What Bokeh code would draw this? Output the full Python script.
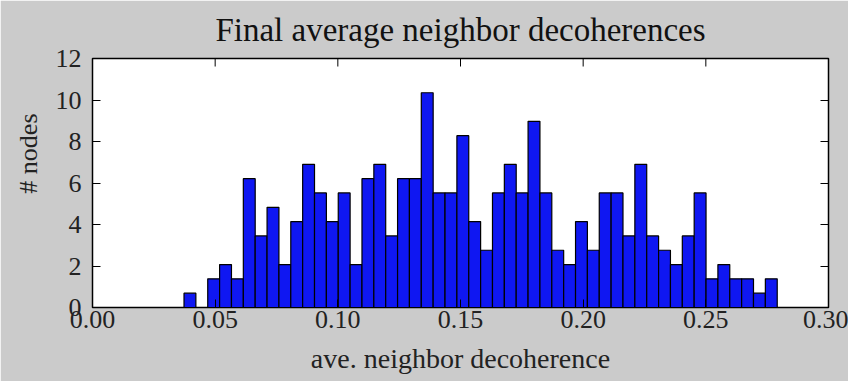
from bokeh.plotting import figure
from bokeh.models import LinearAxis, FixedTicker, NumeralTickFormatter, Range1d, Title
from bokeh.embed import file_html
from bokeh.resources import INLINE
import numpy as np

# histogram (density) values, 50 bins
bin_min = 0.0373
bin_max = 0.2791
heights = [0.69, 0.0, 1.38, 2.07, 1.38, 6.21, 3.45, 4.83, 2.07, 4.14,
           6.90, 5.52, 4.14, 5.52, 2.07, 6.21, 6.90, 3.45, 6.21, 6.21,
           10.35, 5.52, 5.52, 8.28, 4.14, 2.76, 5.52, 6.90, 5.52, 8.97,
           5.52, 2.76, 2.07, 4.14, 2.76, 5.52, 5.52, 3.45, 6.90, 3.45,
           2.76, 2.07, 3.45, 5.52, 1.38, 2.07, 1.38, 1.38, 0.69, 1.38]
x_ticks = [0.00, 0.05, 0.10, 0.15, 0.20, 0.25, 0.30]
y_ticks = [0, 2, 4, 6, 8, 10, 12]
title_text = "Final average neighbor decoherences"
x_label = "ave. neighbor decoherence"
y_label = "# nodes"

edges = np.linspace(bin_min, bin_max, len(heights) + 1)

SERIF = "Liberation Serif"
BG = "#cbcbcb"
TXT = "#222222"
Y_MAX = y_ticks[-1]

p = figure(width=848, height=381, output_backend="svg", toolbar_location=None,
           x_range=Range1d(x_ticks[0], x_ticks[-1]), y_range=Range1d(0, Y_MAX),
           min_border_left=92, min_border_right=20, min_border_top=58,
           min_border_bottom=74)
p.background_fill_color = "white"
p.border_fill_color = BG
p.outline_line_color = "black"
p.outline_line_width = 1.5
p.grid.visible = False

p.title.text = title_text
p.title.align = "center"
p.title.vertical_align = "top"
p.title.text_font = SERIF
p.title.text_font_size = "33px"
p.title.text_font_style = "normal"
p.title.text_color = "#111111"
p.title.standoff = 18

p.quad(left=edges[:-1], right=edges[1:], bottom=0, top=heights,
       fill_color="#0f17f2", line_color="black", line_width=1.2)

# inward ticks along the top edge
p.ray(x=x_ticks, y=Y_MAX, length=8, length_units="screen", angle=-np.pi / 2,
      line_color="black", line_width=1)

for ax in p.xaxis:
    ax.ticker = FixedTicker(ticks=x_ticks)
    ax.formatter = NumeralTickFormatter(format="0.00")
    ax.axis_label = x_label
    ax.major_label_standoff = 3
    ax.axis_label_standoff = 12
for ax in p.yaxis:
    ax.ticker = FixedTicker(ticks=y_ticks)
    ax.major_label_standoff = 11

for ax in list(p.xaxis) + list(p.yaxis):
    ax.major_tick_in = 8
    ax.major_tick_out = 0
    ax.minor_tick_in = 0
    ax.minor_tick_out = 0
    ax.axis_line_color = "black"
    ax.major_tick_line_color = "black"
    ax.major_label_text_font = SERIF
    ax.major_label_text_font_size = "26px"
    ax.major_label_text_color = TXT
    ax.axis_label_text_font = SERIF
    ax.axis_label_text_font_size = "28px"
    ax.axis_label_text_font_style = "normal"
    ax.axis_label_text_color = TXT

right_ax = LinearAxis(ticker=FixedTicker(ticks=y_ticks), major_tick_in=8, major_tick_out=0,
                      minor_tick_in=0, minor_tick_out=0, major_label_text_alpha=0,
                      major_label_text_font_size="1px")
p.add_layout(right_ax, "right")

# y-axis title
p.add_layout(Title(text=y_label, align="right", offset=55, standoff=20,
                   text_font=SERIF, text_font_size="26px", text_color=TXT,
                   text_font_style="normal"), "left")

open("out.html", "w").write(file_html(p, INLINE))
